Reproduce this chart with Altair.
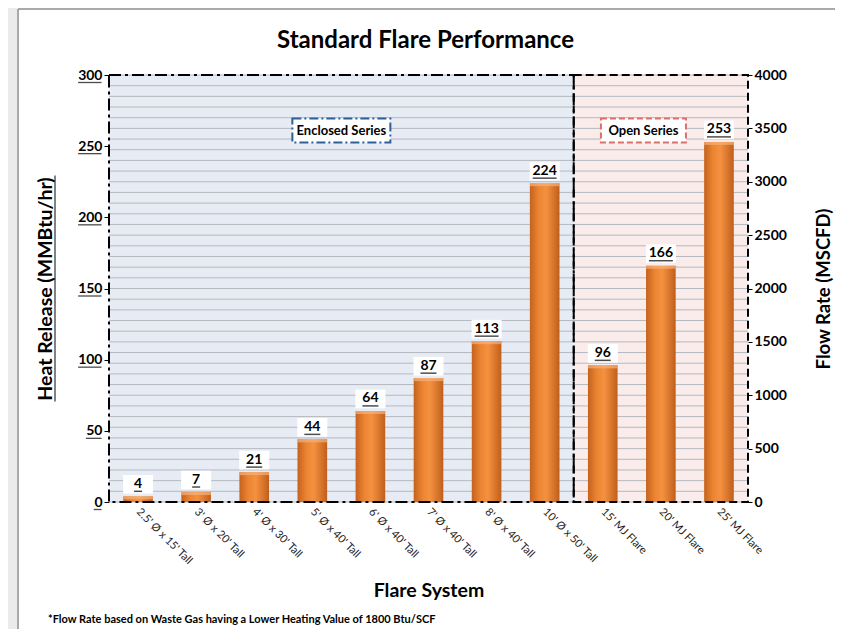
import altair as alt
import pandas as pd

categories = ["2.5' Ø x 15' Tall", "3' Ø x 20' Tall", "4' Ø x 30' Tall",
              "5' Ø x 40' Tall", "6' Ø x 40' Tall", "7' Ø x 40' Tall",
              "8' Ø x 40' Tall", "10' Ø x 50' Tall",
              "15' MJ Flare", "20' MJ Flare", "25' MJ Flare"]
heat_release = [4, 7, 21, 44, 64, 87, 113, 224, 96, 166, 253]
series = ["Enclosed Series"] * 8 + ["Open Series"] * 3

region_names = ["Enclosed Series", "Open Series"]
region_first = ["2.5' Ø x 15' Tall", "15' MJ Flare"]
region_last = ["10' Ø x 50' Tall", "25' MJ Flare"]
region_label_cat = ["6' Ø x 40' Tall", "20' MJ Flare"]
region_label_heat = [261, 261]

heat_ticks = [0, 50, 100, 150, 200, 250, 300]
flow_ticks = [0, 500, 1000, 1500, 2000, 2500, 3000, 3500, 4000]
flow_grid = list(range(0, 4001, 100))

chart_title = "Standard Flare Performance"
footnote = "*Flow Rate based on Waste Gas having a Lower Heating Value of 1800 Btu/SCF"

FONT = "Lato"
W, H = 639, 427
HALF_BAND = W / len(categories) / 2

df = pd.DataFrame({"cat": categories, "heat": heat_release, "series": series})
df["label"] = df["heat"].astype(str)
df["ulen"] = df["label"].str.len() * 8.0

reg = pd.DataFrame({"region": region_names, "first": region_first,
                    "last": region_last, "lcat": region_label_cat,
                    "lheat": region_label_heat})

xscale = alt.Scale(domain=categories, paddingInner=0, paddingOuter=0)
yheat = alt.Scale(domain=[0, 300], nice=False)
yflow = alt.Scale(domain=[0, 4000], nice=False)

x_axis = alt.Axis(title="Flare System", labelAngle=45, labelAlign="left",
                  labelBaseline="middle", labelFont=FONT, labelFontSize=11,
                  labelColor="#222222", labelPadding=8, labelLimit=0,
                  ticks=False, domain=False, grid=False, titleFont=FONT,
                  titleFontSize=19.5, titleFontWeight="bold", titleColor="black",
                  titleY=88, titleBaseline="middle")

y_axis = alt.Axis(orient="left", values=heat_ticks,
                  title="Heat Release (MMBtu/hr)", labelFont=FONT,
                  labelFontSize=14, labelFontWeight="bold", labelColor="black",
                  labelPadding=2, tickSize=5, tickColor="black", domain=False,
                  grid=False, titleFont=FONT, titleFontSize=19.5,
                  titleFontWeight="bold", titleColor="black", titleX=-64,
                  titleY=H / 2, titleAngle=270, titleAlign="center",
                  titleBaseline="middle")

y2_axis = alt.Axis(orient="right", values=flow_ticks, format="d",
                   title="Flow Rate (MSCFD)", labelFont=FONT, labelFontSize=14,
                   labelFontWeight="bold", labelColor="black", labelPadding=2,
                   tickSize=4, tickColor="black", domain=False, grid=False,
                   titleFont=FONT, titleFontSize=18.5, titleFontWeight="bold",
                   titleColor="black", titleX=75, titleY=H / 2,
                   titleAngle=270, titleAlign="center", titleBaseline="middle")


def XC(field, bp=None):
    if bp is None:
        return alt.X(field, scale=xscale, axis=x_axis)
    return alt.X(field, scale=xscale, axis=x_axis, bandPosition=bp)


def YH(field):
    return alt.Y(field, scale=yheat, axis=y_axis)


# background regions
bg = alt.Chart(reg).mark_rect().encode(
    x=XC("first:N", 0),
    x2=alt.X2("last:N", bandPosition=1),
    color=alt.Color("region:N", scale=alt.Scale(domain=region_names,
                    range=["#e7ecf4", "#faeceb"]), legend=None),
)

grid = alt.Chart(pd.DataFrame({"flow": flow_grid})).mark_rule(
    color="#b5b8bf", strokeWidth=1
).encode(y=alt.Y("flow:Q", scale=yflow, axis=y2_axis))

bar_grad = alt.Gradient(
    gradient="linear", x1=0, x2=1, y1=0, y2=0,
    stops=[alt.GradientStop(offset=0, color="#c4621d"),
           alt.GradientStop(offset=0.3, color="#ec8533"),
           alt.GradientStop(offset=0.55, color="#f4913f"),
           alt.GradientStop(offset=1, color="#c05f1c")])

bars = alt.Chart(df).mark_bar(width={"band": 0.51}, color=bar_grad).encode(
    x=XC("cat:N"), y=YH("heat:Q"))

cap = alt.Chart(df).mark_tick(orient="horizontal", size=29.6, thickness=3,
                              color="#f7b27a", yOffset=1.5).encode(
    x=XC("cat:N"), y=YH("heat:Q"))

box_path = "M-1,-0.62L1,-0.62L1,0.62L-1,0.62Z"
lbl_box = alt.Chart(df).mark_point(shape=box_path, filled=True, color="white",
                                   opacity=1, size=900, yOffset=-12).encode(
    x=XC("cat:N"), y=YH("heat:Q"))

lbl_text = alt.Chart(df).mark_text(font=FONT, fontSize=14, fontWeight="bold",
                                   color="black", baseline="middle",
                                   yOffset=-12.5).encode(
    x=XC("cat:N"), y=YH("heat:Q"), text="label:N")

lbl_ul = alt.Chart(df).mark_tick(orient="horizontal", thickness=1.5,
                                 color="black", yOffset=-5).encode(
    x=XC("cat:N"), y=YH("heat:Q"), size=alt.Size("ulen:Q", scale=None))

# left axis label underlines
tick_df = pd.DataFrame({"v": heat_ticks, "anchor": categories[0]})
tick_df["n"] = tick_df["v"].astype(str).str.len()
axis_ul = []
for n in (1, 2, 3):
    w = 7.8 * n
    axis_ul.append(
        alt.Chart(tick_df).transform_filter(f"datum.n == {n}").mark_tick(
            orient="horizontal", size=w, thickness=1.3, color="black",
            xOffset=-(HALF_BAND + 7.5 + w / 2), yOffset=7.5).encode(
            x=XC("anchor:N"), y=YH("v:Q")))

# left axis title underline
title_ul = alt.Chart(pd.DataFrame({"anchor": [categories[0]], "v": [150]})).mark_tick(
    orient="vertical", size=226, thickness=1.4, color="black", xOffset=-54
).encode(x=XC("anchor:N", 0), y=YH("v:Q"))

# region borders
enc_border = alt.Chart(reg).transform_filter("datum.region == 'Enclosed Series'").mark_rect(
    fillOpacity=0, stroke="black", strokeWidth=2, strokeDash=[12, 4, 3, 4]
).encode(x=XC("first:N", 0), x2=alt.X2("last:N", bandPosition=1))
open_border = alt.Chart(reg).transform_filter("datum.region == 'Open Series'").mark_rect(
    fillOpacity=0, stroke="black", strokeWidth=2, strokeDash=[8, 4]
).encode(x=XC("first:N", 0), x2=alt.X2("last:N", bandPosition=1))

# series annotation boxes
enc_box = alt.Chart(reg).transform_filter("datum.region == 'Enclosed Series'").mark_point(
    shape="M-1,-0.245L1,-0.245L1,0.245L-1,0.245Z", filled=False, fill="white",
    fillOpacity=1, opacity=1, stroke="#2f5f98", strokeWidth=2,
    strokeDash=[9, 3, 2, 3], size=9604
).encode(x=XC("lcat:N", 0), y=YH("lheat:Q"))
open_box = alt.Chart(reg).transform_filter("datum.region == 'Open Series'").mark_point(
    shape="M-1,-0.282L1,-0.282L1,0.282L-1,0.282Z", filled=False, fill="white",
    fillOpacity=1, opacity=1, stroke="#d9706b", strokeWidth=2,
    strokeDash=[6, 3], size=7225
).encode(x=XC("lcat:N", 0.2), y=YH("lheat:Q"))
enc_txt = alt.Chart(reg).transform_filter("datum.region == 'Enclosed Series'").mark_text(
    font=FONT, fontSize=13, fontWeight="bold", color="black", baseline="middle"
).encode(x=XC("lcat:N", 0), y=YH("lheat:Q"), text="region:N")
open_txt = alt.Chart(reg).transform_filter("datum.region == 'Open Series'").mark_text(
    font=FONT, fontSize=13, fontWeight="bold", color="black", baseline="middle"
).encode(x=XC("lcat:N", 0.2), y=YH("lheat:Q"), text="region:N")

title_txt = alt.Chart(pd.DataFrame({"t": [chart_title]})).mark_text(
    align="center", baseline="middle", font=FONT, fontSize=24, fontWeight="bold",
    color="black"
).encode(text="t:N", x=alt.value(W / 2 - 3), y=alt.value(-34))

foot = alt.Chart(pd.DataFrame({"t": [footnote]})).mark_text(
    align="left", baseline="middle", font=FONT, fontSize=11, fontWeight="bold",
    color="black"
).encode(text="t:N", x=alt.value(-61), y=alt.value(545))

# page frame decoration (left strip and border lines of the document)
frame_strip = alt.Chart(pd.DataFrame({"k": [0]})).mark_rect(color="#ebebeb").encode(
    x=alt.value(-101), x2=alt.value(-92), y=alt.value(-67), y2=alt.value(554))
frame_left = alt.Chart(pd.DataFrame({"k": [0]})).mark_rule(color="#8c8c8c", strokeWidth=1.5).encode(
    x=alt.value(-91), y=alt.value(-66), y2=alt.value(554))
frame_top = alt.Chart(pd.DataFrame({"k": [0]})).mark_rule(color="#8c8c8c", strokeWidth=1.5).encode(
    x=alt.value(-91), x2=alt.value(726), y=alt.value(-66))

heat_layer = alt.layer(bars, cap, lbl_box, lbl_text, lbl_ul, *axis_ul, title_ul,
                       enc_border, open_border, enc_box, open_box, enc_txt,
                       open_txt, title_txt, foot, frame_strip, frame_left,
                       frame_top)

chart = alt.layer(bg, grid, heat_layer).resolve_scale(y="independent").properties(
    width=W, height=H, autosize="none",
    padding={"left": 101, "top": 67, "right": 87, "bottom": 127},
    background="white",
).configure_view(stroke=None)

chart.save("out.html", embed_options={"renderer": "svg", "actions": False})
